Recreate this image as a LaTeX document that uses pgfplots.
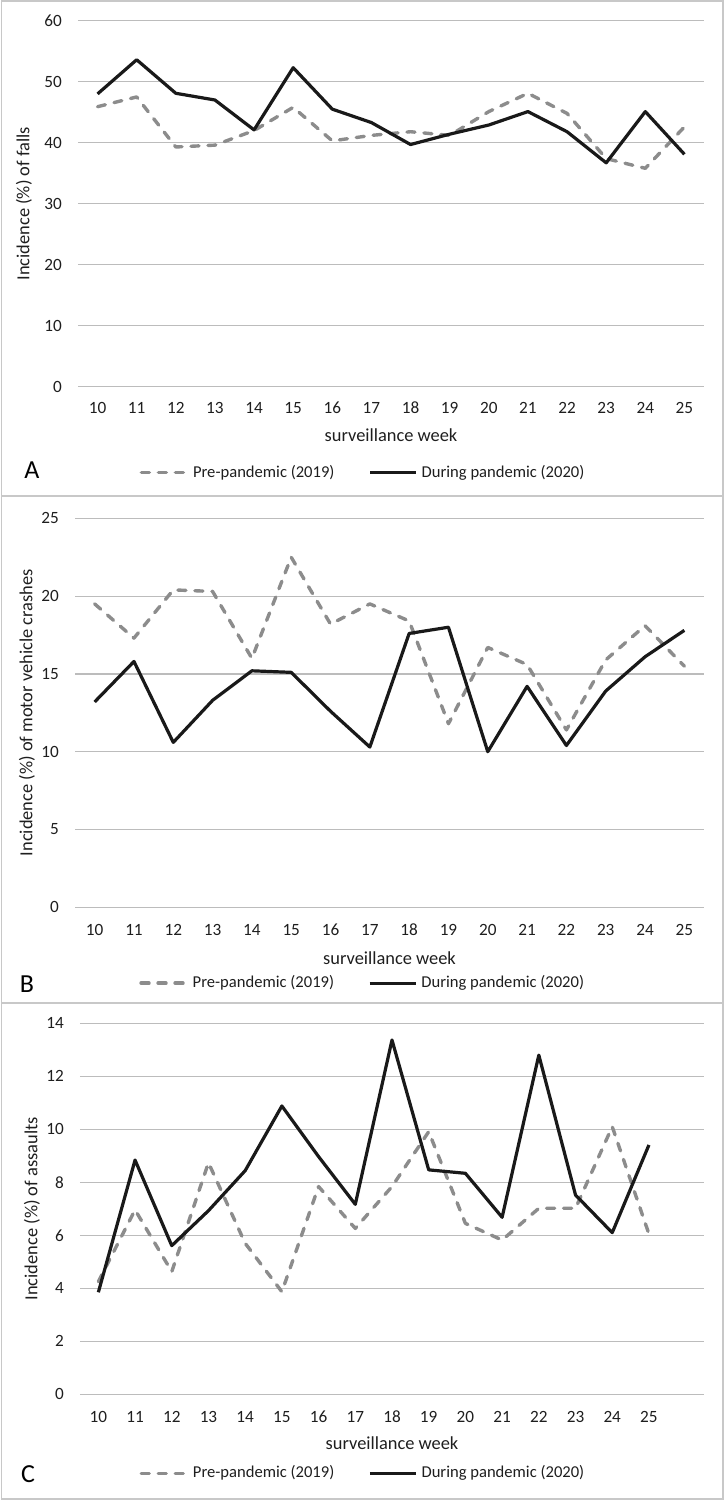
\documentclass[border=0pt]{standalone}
\usepackage{fontspec}
\setmainfont{Carlito}
\usepackage{pgfplots}
\usepackage{pgfplotstable}
\pgfplotsset{compat=1.18}
\definecolor{pre}{RGB}{140,140,140}
\definecolor{dur}{RGB}{25,25,25}
\definecolor{gridc}{RGB}{188,188,188}
\definecolor{txt}{RGB}{30,30,30}
\definecolor{framec}{RGB}{200,200,200}

\pgfplotstableread{
week pre dur
10 45.9 48.0
11 47.5 53.6
12 39.3 48.1
13 39.6 47.0
14 42.0 42.1
15 45.8 52.3
16 40.3 45.5
17 41.2 43.3
18 41.8 39.7
19 41.2 41.4
20 45.1 42.9
21 48.1 45.1
22 44.8 41.8
23 37.4 36.7
24 35.8 45.1
25 42.6 38.1
}\falls

\pgfplotstableread{
week pre dur
10 19.5 13.2
11 17.3 15.8
12 20.4 10.6
13 20.3 13.3
14 16.0 15.2
15 22.5 15.1
16 18.2 12.6
17 19.5 10.3
18 18.4 17.6
19 11.8 18.0
20 16.7 10.0
21 15.6 14.2
22 11.4 10.4
23 15.9 13.9
24 18.1 16.1
25 15.5 17.8
}\crashes

\pgfplotstableread{
week pre dur
10 4.25 3.85
11 6.96 8.84
12 4.63 5.61
13 8.74 6.93
14 5.70 8.44
15 3.87 10.88
16 7.84 8.97
17 6.26 7.17
18 7.84 13.37
19 9.91 8.47
20 6.45 8.34
21 5.82 6.68
22 7.02 12.8
23 7.02 7.52
24 10.1 6.10
25 6.05 9.41
}\assaults

\pgfplotsset{
 panel/.style={
  scale only axis,
  anchor=north west,
  xmin=9.5, xmax=25.5,
  ymin=0,
  xtick={10,...,25},
  axis line style={draw=none},
  major tick length=0pt,
  ymajorgrids, grid style={gridc, line width=0.6pt},
  tick label style={font=\fontsize{8.6}{10}\selectfont, text=txt},
  /pgf/number format/assume math mode=true,
  xticklabel style={anchor=center},
  yticklabel style={anchor=east, xshift=-4.6pt},
  label style={font=\fontsize{9.2}{11}\selectfont, text=txt},
  xlabel={surveillance week},
  legend columns=2,
  legend style={draw=none, fill=none, font=\fontsize{8.3}{10}\selectfont, text=txt, anchor=center, inner sep=0pt},
  legend image code/.code={\draw[#1] (0pt,0pt) -- (23pt,0pt);},
  clip=false,
 },
 preline/.style={pre, line width=1.7pt, line cap=round, line join=round, dash pattern=on 4pt off 4.5pt},
 durline/.style={dur, line width=1.6pt, line join=round},
}

\begin{document}
\begin{tikzpicture}
\useasboundingbox (0,0) rectangle (363pt,-750pt);
\draw[framec, line width=0.8pt] (0.8pt,-0.6pt) rectangle (361.6pt,-749.4pt);
\draw[framec, line width=0.8pt] (0.8pt,-248pt) -- (361.6pt,-248pt);
\draw[framec, line width=0.8pt] (0.8pt,-501.5pt) -- (361.6pt,-501.5pt);

% Panel A
\begin{axis}[panel, at={(39pt,-10.35pt)}, width=313pt, height=183pt,
  ymax=60, ytick={0,10,...,60},
  ylabel={Incidence (\%) of falls},
  ylabel style={at={(axis description cs:-0.0863,0.5)}, anchor=center},
  xlabel style={at={(axis description cs:0.5,-0.1311)}, anchor=center},
  xticklabel style={yshift=-10.65pt},
  legend style={at={(axis description cs:0.457,-0.235)}}]
\addplot[preline] table[x=week,y=pre] {\falls};
\addlegendentry{Pre-pandemic (2019)\hspace*{15pt}\mbox{}}
\addplot[durline] table[x=week,y=dur] {\falls};
\addlegendentry{During pandemic (2020)}
\end{axis}

% Panel B
\begin{axis}[panel, at={(37.5pt,-259.15pt)}, width=314.5pt, height=194.5pt,
  ymax=25, ytick={0,5,...,25},
  ylabel={Incidence (\%) of motor vehicle crashes},
  ylabel style={at={(axis description cs:-0.0763,0.5)}, anchor=center},
  xlabel style={at={(axis description cs:0.5,-0.1311)}, anchor=center},
  xticklabel style={yshift=-11.35pt},
  legend style={at={(axis description cs:0.459,-0.195)}}]
\addplot[preline] table[x=week,y=pre] {\crashes};
\addlegendentry{Pre-pandemic (2019)\hspace*{15pt}\mbox{}}
\addplot[durline] table[x=week,y=dur] {\crashes};
\addlegendentry{During pandemic (2020)}
\end{axis}

% Panel C
\begin{axis}[panel, at={(40pt,-511.65pt)}, width=312pt, height=185.5pt,
  xmax=26.5,
  ymax=14, ytick={0,2,...,14},
  ylabel={Incidence (\%) of assaults},
  ylabel style={at={(axis description cs:-0.0769,0.5)}, anchor=center},
  xlabel style={at={(axis description cs:0.5,-0.132)}, anchor=center},
  xticklabel style={yshift=-11.35pt},
  legend style={at={(axis description cs:0.455,-0.213)}}]
\addplot[preline] table[x=week,y=pre] {\assaults};
\addlegendentry{Pre-pandemic (2019)\hspace*{15pt}\mbox{}}
\addplot[durline] table[x=week,y=dur] {\assaults};
\addlegendentry{During pandemic (2020)}
\end{axis}

\node[font=\fontsize{13}{15}\selectfont, text=black] at (16pt,-235pt) {A};
\node[font=\fontsize{13}{15}\selectfont, text=black] at (13.5pt,-492pt) {B};
\node[font=\fontsize{13}{15}\selectfont, text=black] at (14pt,-737pt) {C};
\end{tikzpicture}
\end{document}
